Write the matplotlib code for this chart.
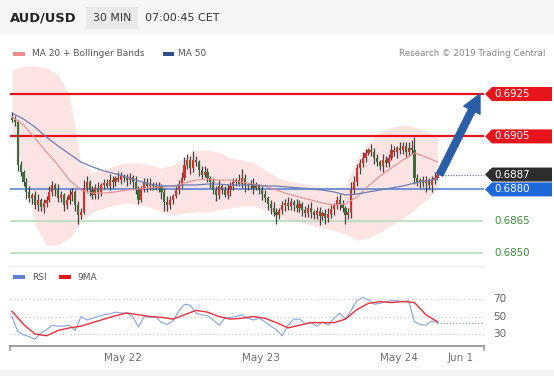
import numpy as np
import matplotlib
matplotlib.use("Agg")
import matplotlib.pyplot as plt
from matplotlib.patches import Rectangle, Polygon

plt.rcParams['font.family'] = ['DejaVu Sans']

W, H = 554, 376

# ---------------- data ----------------
first_open = 0.69137
closes = [
    0.69127, 0.69118, 0.68915, 0.68882, 0.68835, 0.68787, 0.68759, 0.68773, 0.68726, 0.68750,
    0.68717, 0.68736, 0.68750, 0.68787, 0.68820, 0.68797, 0.68759, 0.68773, 0.68726, 0.68750,
    0.68773, 0.68787, 0.68726, 0.68679, 0.68693, 0.68806, 0.68835, 0.68797, 0.68773, 0.68806,
    0.68787, 0.68820, 0.68830, 0.68816, 0.68844, 0.68835, 0.68854, 0.68844, 0.68863, 0.68854,
    0.68844, 0.68858, 0.68835, 0.68797, 0.68750, 0.68806, 0.68835, 0.68816, 0.68825, 0.68816,
    0.68806, 0.68816, 0.68787, 0.68740, 0.68726, 0.68750, 0.68769, 0.68797, 0.68825, 0.68854,
    0.68915, 0.68939, 0.68901, 0.68939, 0.68929, 0.68891, 0.68868, 0.68882, 0.68854, 0.68835,
    0.68797, 0.68773, 0.68816, 0.68797, 0.68773, 0.68797, 0.68816, 0.68835, 0.68844, 0.68825,
    0.68854, 0.68816, 0.68820, 0.68825, 0.68806, 0.68816, 0.68797, 0.68778, 0.68759, 0.68731,
    0.68712, 0.68693, 0.68679, 0.68703, 0.68726, 0.68736, 0.68721, 0.68740, 0.68726, 0.68712,
    0.68731, 0.68703, 0.68688, 0.68712, 0.68693, 0.68679, 0.68698, 0.68674, 0.68688, 0.68665,
    0.68684, 0.68707, 0.68726, 0.68750, 0.68731, 0.68712, 0.68679, 0.68693, 0.68797, 0.68835,
    0.68901, 0.68924, 0.68948, 0.68972, 0.68986, 0.68976, 0.68948, 0.68929, 0.68910, 0.68939,
    0.68924, 0.68948, 0.68986, 0.68976, 0.68995, 0.68986, 0.69005, 0.68976, 0.68995, 0.68986,
    0.68854, 0.68835, 0.68844, 0.68830, 0.68844, 0.68820, 0.68844, 0.68854, 0.68868,
]
upper_wick_pips = [
    3, 2, 1, 2, 1, 2, 3, 1, 2, 3,
    1, 2, 2, 3, 2, 1, 3, 2, 1, 2,
    3, 2, 1, 2, 2, 4, 3, 1, 2, 2,
    3, 1, 2, 2, 3, 2, 1, 3, 2, 1,
    2, 2, 1, 3, 2, 1, 2, 2, 3, 1,
    2, 2, 1, 2, 3, 2, 1, 2, 2, 3,
    4, 3, 2, 4, 2, 1, 2, 3, 2, 1,
    2, 2, 3, 1, 2, 3, 2, 2, 1, 3,
    4, 2, 1, 2, 3, 2, 1, 2, 2, 1,
    2, 3, 2, 1, 2, 2, 3, 2, 1, 3,
    2, 1, 2, 2, 3, 1, 2, 2, 1, 2,
    3, 2, 1, 2, 3, 2, 1, 2, 4, 3,
    2, 2, 3, 2, 1, 3, 2, 2, 1, 3,
    2, 2, 3, 2, 1, 3, 2, 2, 3, 4,
    6, 2, 1, 2, 2, 1, 2, 3, 1,
]
lower_wick_pips = [
    1, 2, 3, 2, 2, 3, 2, 3, 2, 3,
    2, 3, 2, 1, 2, 3, 2, 2, 3, 2,
    2, 3, 3, 4, 2, 1, 2, 3, 2, 2,
    3, 2, 2, 1, 2, 3, 2, 1, 2, 2,
    3, 2, 3, 2, 2, 1, 2, 3, 2, 2,
    1, 2, 3, 4, 3, 2, 2, 1, 2, 2,
    1, 2, 3, 2, 2, 3, 2, 1, 2, 3,
    2, 3, 2, 2, 1, 2, 3, 2, 2, 1,
    2, 3, 2, 2, 3, 1, 2, 3, 2, 3,
    3, 2, 4, 2, 2, 3, 2, 2, 3, 2,
    2, 3, 2, 2, 3, 2, 2, 4, 2, 3,
    2, 2, 3, 2, 3, 2, 4, 2, 3, 2,
    2, 3, 2, 2, 1, 2, 3, 2, 2, 3,
    2, 2, 1, 2, 3, 2, 2, 3, 2, 2,
    3, 2, 3, 2, 4, 2, 3, 2, 1,
]

indicator_step = 4
ma50 = [0.69160, 0.69132, 0.69094, 0.69047, 0.69005, 0.68967, 0.68929, 0.68906, 0.68887, 0.68873,
        0.68858, 0.68840, 0.68825, 0.68816, 0.68816, 0.68821, 0.68821, 0.68825, 0.68825, 0.68821,
        0.68821, 0.68821, 0.68816, 0.68816, 0.68811, 0.68807, 0.68802, 0.68797, 0.68788, 0.68774,
        0.68778, 0.68788, 0.68797, 0.68807, 0.68816, 0.68830, 0.68840, 0.68849]
ma20 = [0.69142, 0.69104, 0.69042, 0.68976, 0.68915, 0.68844, 0.68797, 0.68783, 0.68783, 0.68788,
        0.68797, 0.68802, 0.68807, 0.68811, 0.68816, 0.68830, 0.68844, 0.68849, 0.68844, 0.68844,
        0.68835, 0.68825, 0.68816, 0.68797, 0.68778, 0.68764, 0.68750, 0.68736, 0.68726, 0.68731,
        0.68764, 0.68816, 0.68863, 0.68901, 0.68939, 0.68972, 0.68953, 0.68929]
bb_upper = [0.69363, 0.69382, 0.69382, 0.69373, 0.69340, 0.69245, 0.68925, 0.68882, 0.68891, 0.68915,
            0.68925, 0.68925, 0.68915, 0.68901, 0.68915, 0.68948, 0.68986, 0.68986, 0.68976, 0.68948,
            0.68939, 0.68929, 0.68891, 0.68858, 0.68840, 0.68830, 0.68821, 0.68811, 0.68807, 0.68816,
            0.68939, 0.69019, 0.69071, 0.69094, 0.69104, 0.69094, 0.69075, 0.69047]
bb_lower = [0.69080, 0.68882, 0.68632, 0.68538, 0.68538, 0.68571, 0.68646, 0.68693, 0.68712, 0.68726,
            0.68736, 0.68726, 0.68717, 0.68693, 0.68679, 0.68689, 0.68693, 0.68693, 0.68703, 0.68712,
            0.68722, 0.68722, 0.68703, 0.68675, 0.68656, 0.68646, 0.68632, 0.68618, 0.68608, 0.68590,
            0.68561, 0.68571, 0.68599, 0.68632, 0.68665, 0.68703, 0.68750, 0.68797]

rsi_step = 2
rsi = [50, 33, 29, 27, 24, 31, 35, 40, 39, 39,
       40, 34, 50, 46, 48, 50, 52, 53, 55, 54,
       54, 50, 38, 50, 49, 50, 43, 41, 45, 56,
       64, 63, 54, 52, 51, 46, 40, 48, 49, 50,
       52, 48, 46, 48, 44, 39, 35, 28, 40, 47,
       47, 42, 43, 39, 44, 40, 48, 54, 47, 57,
       68, 72, 69, 64, 65, 67, 68, 68, 67, 68,
       44, 41, 40, 45, 43]
rsi_ma9_step = 4
rsi_ma9 = [56, 41, 30, 28, 34, 37, 39, 43, 47, 51, 54, 52, 50, 49, 47, 52, 57, 55, 50, 47,
           48, 50, 48, 43, 37, 40, 43, 43, 43, 47, 58, 65, 67, 66, 67, 66, 52, 44]

resistances = [0.6925, 0.6905]
last_price = 0.6887
pivot = 0.6880
supports = [0.6865, 0.6850]
target_price = 0.6925
target_index = 162.8
rsi_levels = [70, 50, 30]
date_labels = ["May 22", "May 23", "May 24", "Jun 1"]
date_index = [38.6, 86.6, 134.6, 156.2]

# ---------------- derived ----------------
c = np.array(closes)
n = len(c)
o = np.concatenate([[first_open], c[:-1]])
hi = np.maximum(o, c) + np.array(upper_wick_pips) * 1e-4
lo = np.minimum(o, c) - np.array(lower_wick_pips) * 1e-4
x = np.arange(n)
ix = np.arange(len(ma50)) * indicator_step
rx = np.arange(len(rsi)) * rsi_step
mx = np.arange(len(rsi_ma9)) * rsi_ma9_step

def fx(px):
    return px / W

def fy(py):
    return 1 - py / H

fig = plt.figure(figsize=(W / 100, H / 100), dpi=100)
fig.patch.set_facecolor('white')

# header band
fig.add_artist(Rectangle((0, fy(34)), 1, 34 / H, transform=fig.transFigure,
                         facecolor='#f6f6f6', edgecolor='none', zorder=0))
fig.add_artist(Rectangle((fx(86), fy(29)), 52 / W, 22 / H, transform=fig.transFigure,
                         facecolor='#e9e9e9', edgecolor='none', zorder=1))
fig.text(fx(10), fy(18), "AUD/USD", fontsize=9.4, fontweight='bold', color='#222222', va='center')
fig.text(fx(112), fy(18), "30 MIN", fontsize=7.8, color='#333333', va='center', ha='center')
fig.text(fx(145), fy(18), "07:00:45 CET", fontsize=8.0, color='#333333', va='center')
# bottom strip
fig.add_artist(Rectangle((0, 0), 1, 6 / H, transform=fig.transFigure,
                         facecolor='#f3f3f3', edgecolor='none', zorder=0))

# legends
def swatch(x0, x1, yc, color):
    fig.add_artist(Rectangle((fx(x0), fy(yc + 2)), (x1 - x0) / W, 4 / H,
                             transform=fig.transFigure, facecolor=color, edgecolor='none'))

swatch(13, 25, 54, '#f08a8a')
fig.text(fx(32), fy(54), "MA 20 + Bollinger Bands", fontsize=6.5, color='#555555', va='center')
swatch(163, 174, 54, '#2f4f8f')
fig.text(fx(178), fy(54), "MA 50", fontsize=6.5, color='#555555', va='center')
fig.text(fx(545), fy(54), "Research © 2019 Trading Central", fontsize=6.3, color='#888888',
         va='center', ha='right')
swatch(13, 25, 277, '#5b86d6')
fig.text(fx(32), fy(277), "RSI", fontsize=6.5, color='#555555', va='center')
swatch(59, 71, 277, '#e8141b')
fig.text(fx(77), fy(277), "9MA", fontsize=6.5, color='#555555', va='center')

# ---------------- main price panel ----------------
ax = fig.add_axes([fx(10), fy(266), 474 / W, 202 / H])
ax.set_xlim(-0.7, 164.2)
ax.set_ylim(0.684387, 0.693915)
ax.set_facecolor('none')
for s in ['top', 'left', 'right']:
    ax.spines[s].set_visible(False)
ax.spines['bottom'].set_color('#ececec')
ax.set_xticks([])
ax.set_yticks([])

ax.fill_between(ix, bb_lower, bb_upper, color='#fde4e4', lw=0, zorder=1)

for r in resistances:
    ax.axhline(r, color='#e4141b', lw=1.6, zorder=2)
ax.axhline(pivot, color='#4f7bd2', lw=1.1, zorder=2)
for s_ in supports:
    ax.plot([-0.7, 163.5], [s_, s_], color='#b3d9b3', lw=1.1, zorder=2)

bull = c >= o
ax.vlines(x, lo, hi, color='#444444', lw=0.9, zorder=3)
body_h = np.maximum(np.abs(c - o), 0.00003)
ax.bar(x, body_h, bottom=np.minimum(o, c), width=0.75,
       color=np.where(bull, '#d32f2c', '#3b6e3b'), lw=0, zorder=4)

ax.plot(ix, ma20, color='#ee8c8c', lw=0.8, zorder=5)
ax.plot(ix, ma50, color='#6d7db3', lw=0.9, zorder=5)

ax.hlines(last_price, n - 0.5, 164.2, colors='#6c7fa8', linestyles=(0, (1, 1.2)), lw=0.9, zorder=2)

ax.annotate("", xy=(target_index, target_price), xytext=(n - 0.2, last_price),
            arrowprops=dict(arrowstyle="simple,head_length=1.0,head_width=1.0,tail_width=0.38",
                            color='#2b5ea7', mutation_scale=13, shrinkA=0, shrinkB=0),
            zorder=6, annotation_clip=False)

def price_label(price, face, tc, box=True):
    yd = ax.transData.transform((0, price))[1]
    yt = H - yd
    if box:
        verts = [(485, yt), (492, yt - 7), (552, yt - 7), (552, yt + 7), (492, yt + 7)]
        fig.add_artist(Polygon([(fx(a), fy(b)) for a, b in verts], closed=True,
                               transform=fig.transFigure, facecolor=face, edgecolor='none'))
    fig.text(fx(494), fy(yt), f"{price:.4f}", color=tc, fontsize=7.4, va='center', ha='left')

for r in resistances:
    price_label(r, '#e8141b', 'white')
price_label(last_price, '#2e2e2e', 'white')
price_label(pivot, '#1f68d8', 'white')
for s_ in supports:
    price_label(s_, None, '#3a8a3a', box=False)

# ---------------- RSI panel ----------------
ax2 = fig.add_axes([fx(10), fy(346), 474 / W, 61 / H])
ax2.set_xlim(-0.7, 164.2)
ax2.set_ylim(16.3, 86)
ax2.set_facecolor('none')
for s in ['top', 'left', 'right']:
    ax2.spines[s].set_visible(False)
ax2.spines['bottom'].set_color('#9a9a9a')
ax2.spines['bottom'].set_linewidth(1.3)
ax2.set_yticks([])
for v in rsi_levels:
    ax2.axhline(v, color='#cdcdcd', lw=0.9, ls=(0, (1, 2)), zorder=1)
ax2.plot(rx, rsi, color='#86a3e0', lw=0.8, zorder=3)
ax2.plot(mx, rsi_ma9, color='#e8303a', lw=1.0, zorder=4)
ax2.hlines(rsi[-1], rx[-1], 164.2, colors='#8aa4dd', linestyles=(0, (1, 1.5)), lw=0.9, zorder=2)
ax2.set_xticks(date_index)
ax2.set_xticklabels(date_labels)
ax2.tick_params(axis='x', length=0, pad=5, labelsize=7.5, labelcolor='#707070')
for xa in (0, 1):
    ax2.plot([xa, xa], [0, -0.07], transform=ax2.transAxes, color='#9a9a9a', lw=1.2, clip_on=False)
for v in rsi_levels:
    yd = ax2.transData.transform((0, v))[1]
    fig.text(fx(493), yd / H, f"{v}", fontsize=7.5, color='#666666', va='center', ha='left')

fig.savefig("out.png", dpi=100)
